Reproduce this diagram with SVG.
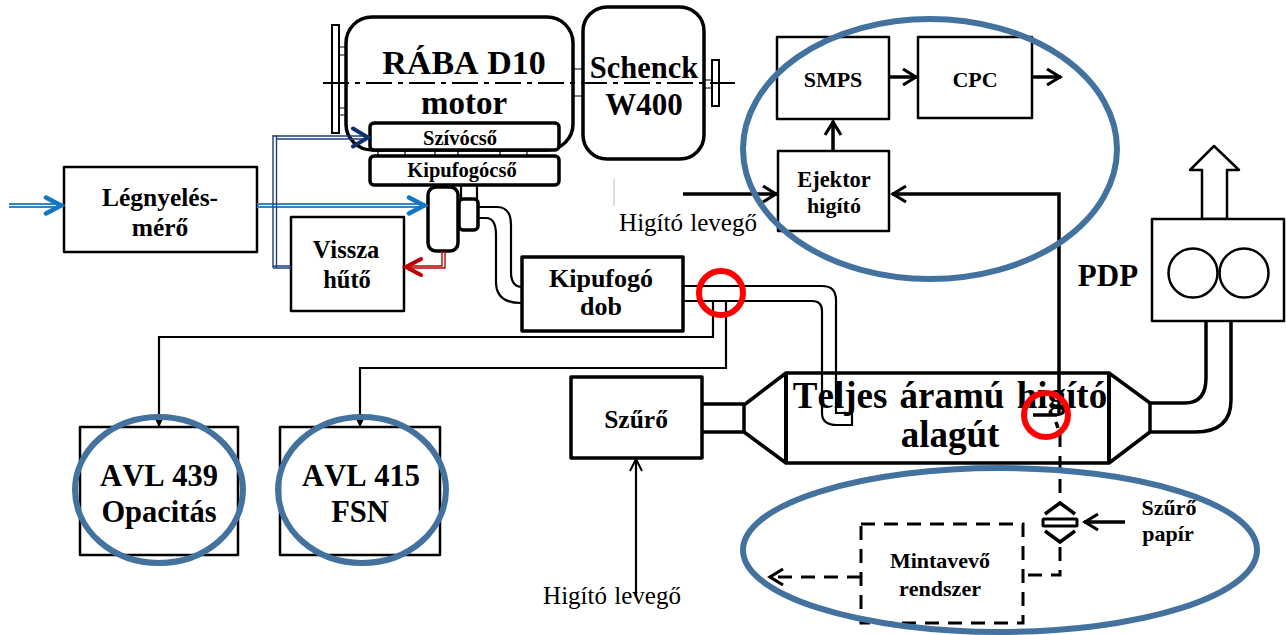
<svg xmlns="http://www.w3.org/2000/svg" width="1287" height="635" viewBox="0 0 1287 635">
<style>
text{font-family:"Liberation Serif","Times New Roman",serif;font-weight:bold;text-anchor:middle;fill:#000;font-kerning:none}
.b{fill:#fff;stroke:#000;stroke-width:2.5;stroke-linejoin:round}
.t{fill:#fff;stroke:#000;stroke-width:3.5;stroke-linejoin:round}
.l{fill:none;stroke:#000;stroke-width:2.2}
.m{fill:none;stroke:#000;stroke-width:3.5}
.d{fill:none;stroke:#000;stroke-width:3;stroke-dasharray:14 9}
.s{fill:none;stroke:#000;stroke-width:1.2}
.bl{fill:none;stroke:#2e86c8;stroke-width:1.8}
.db{fill:none;stroke:#1f3f80;stroke-width:1.4}
.rd{fill:none;stroke:#c00000;stroke-width:1.4}
.oval{fill:none;stroke:#44729f;stroke-width:6}
.red{fill:none;stroke:#f00;stroke-width:6}
.reg{font-weight:normal}
</style>
<defs>
<marker id="ak" markerUnits="userSpaceOnUse" markerWidth="18" markerHeight="20" refX="16" refY="10" orient="auto"><path d="M2 2L15 10L2 18" fill="none" stroke="#000" stroke-width="3.2"/></marker>
<marker id="aks" markerUnits="userSpaceOnUse" markerWidth="16" markerHeight="16" refX="14" refY="8" orient="auto"><path d="M2 2L14 8L2 14" fill="none" stroke="#000" stroke-width="2"/></marker>
<marker id="at" markerUnits="userSpaceOnUse" markerWidth="10" markerHeight="10" refX="9" refY="5" orient="auto"><path d="M1 1L9 5L1 9Z" fill="#000"/></marker>
<marker id="abl" markerUnits="userSpaceOnUse" markerWidth="22" markerHeight="22" refX="19" refY="11" orient="auto"><path d="M3 3L18 11L3 19" fill="none" stroke="#0f77c6" stroke-width="4.5" stroke-linecap="round"/></marker>
<marker id="adb" markerUnits="userSpaceOnUse" markerWidth="22" markerHeight="24" refX="19" refY="12" orient="auto"><path d="M3 3L18 12L3 21" fill="none" stroke="#123070" stroke-width="4" stroke-linecap="round"/></marker>
<marker id="ard" markerUnits="userSpaceOnUse" markerWidth="22" markerHeight="22" refX="19" refY="11" orient="auto"><path d="M3 3L18 11L3 19" fill="none" stroke="#c00000" stroke-width="4" stroke-linecap="round"/></marker>
</defs>

<g id="engine">
<rect class="s" style="stroke-width:2" x="332" y="25" width="7" height="108"/>
<path class="s" d="M339 47H346M339 55H346M339 108H346M339 115H346M573 69H583M573 96H583M704 80H712M704 88H712"/>
<rect class="m" x="346" y="17" width="227" height="133" rx="26"/>
<rect class="s" style="stroke-width:2" x="712" y="60" width="7" height="46"/>
<text x="464" y="74" font-size="34">RÁBA D10</text>
<text x="464" y="114" font-size="33">motor</text>
</g>
<g id="schenck">
<rect class="m" x="583" y="7" width="121" height="152" rx="24"/>
<text x="644" y="78" font-size="30.5">Schenck</text>
<text x="644" y="115" font-size="31">W400</text>
</g>
<g id="szivocso">
<rect class="t" x="370" y="123" width="189" height="27" rx="4"/>
<text x="460" y="145" font-size="20.5">Szívócső</text>
</g>
<g id="kipufogocso">
<path class="s" d="M378 150V156M405 150V156M435 150V156M458 150V156M500 150V156M527 150V156"/>
<rect class="t" x="370" y="156" width="189" height="29" rx="4"/>
<text x="462" y="177" font-size="20.5">Kipufogócső</text>
</g>
<g id="turbo">
<path class="l" d="M461 185V199M477 185V199"/>
<rect class="t" x="428" y="187" width="30" height="64" rx="8"/>
<rect class="t" x="459" y="199" width="19" height="31" rx="4"/>
</g>
<g id="legnyeles">
<rect class="b" x="64" y="167" width="193" height="85"/>
<text x="160" y="206" font-size="25.5">Légnyelés-</text>
<text x="160" y="236" font-size="25.5">mérő</text>
</g>
<g id="visszahuto">
<rect class="b" x="291" y="217" width="113" height="94"/>
<text x="346" y="258" font-size="24.5">Vissza</text>
<text x="347" y="288" font-size="24.5">hűtő</text>
</g>
<g id="kipufogodob">
<rect class="t" x="522" y="257" width="161" height="74"/>
<text x="601" y="287" font-size="26">Kipufogó</text>
<text x="601" y="315" font-size="26">dob</text>
</g>
<g id="smps">
<rect class="b" x="777" y="37" width="112" height="82"/>
<text x="833" y="87" font-size="22">SMPS</text>
</g>
<g id="cpc">
<rect class="b" x="918" y="37" width="114" height="81"/>
<text x="975" y="87" font-size="22">CPC</text>
</g>
<g id="ejektor">
<rect class="b" x="778" y="151" width="111" height="80"/>
<text x="834" y="187" font-size="22.5">Ejektor</text>
<text x="834" y="213" font-size="22">higító</text>
</g>
<g id="avl439">
<rect class="b" x="80" y="427" width="158" height="128"/>
<text x="159" y="486" font-size="30.5">AVL 439</text>
<text x="159" y="522" font-size="30.5">Opacitás</text>
</g>
<g id="avl415">
<rect class="b" x="280" y="427" width="160" height="128"/>
<text x="361" y="486" font-size="30.5">AVL 415</text>
<text x="360" y="522" font-size="30.5">FSN</text>
</g>
<g id="szuro">
<rect class="t" x="571" y="377" width="131" height="81" stroke-width="4"/>
<text x="636" y="428" font-size="25.5">Szűrő</text>
</g>
<g id="pdp">
<path class="b" d="M1202 219V170H1190L1214 146L1239 170H1227V219Z"/>
<rect class="b" x="1152" y="219" width="132" height="102"/>
<circle class="b" cx="1193" cy="273" r="24.5"/>
<circle class="b" cx="1244" cy="273" r="24.5"/>
<text x="1108" y="286" font-size="31">PDP</text>
</g>
<g id="mintavevo">
<rect class="d" x="861" y="524" width="162" height="99"/>
<text x="940" y="568" font-size="22">Mintavevő</text>
<text x="940" y="596" font-size="22">rendszer</text>
</g>
<g id="szuropapir">
<path class="m" d="M1045 514L1060 503L1075 514M1045 531L1060 542L1075 531"/>
<rect x="1043" y="519" width="34" height="7" rx="1" fill="#fff" stroke="#000" stroke-width="3"/>
<text x="1169" y="515" font-size="22">Szűrő</text>
<text x="1168" y="541" font-size="22">papír</text>
</g>

<g id="connectors">
<path class="l" d="M323 83H735" style="stroke-dasharray:26 6 5 6"/>
<path class="l" d="M478 207H497Q511 207 511 225V272Q511 286 521 287"/>
<path class="l" d="M478 218H486Q496 218 496 235V282Q496 303 521 303"/>
<path class="l" d="M683 286H822Q836 286 836 300V413H852V425H837Q822 425 822 413V311Q822 301 812 301H683"/>
<path class="l" d="M713 301V337H159V427" marker-end="url(#at)"/>
<path class="l" d="M726 301V368H360V427" marker-end="url(#at)"/>
<path class="bl" d="M9 204H62M9 207H62"/>
<path fill="none" stroke="none" d="M44 205.500H62" marker-end="url(#abl)"/>
<path class="bl" d="M257 204H425M257 207H425"/>
<path fill="none" stroke="none" d="M400 205.500H425" marker-end="url(#abl)"/>
<path class="db" d="M273 135V268M276.500 135V268M273 136H369M276 139H369M273 268H291M273 266H291"/>
<path fill="none" stroke="none" d="M340 137.500H369" marker-end="url(#adb)"/>
<path class="rd" d="M442 251V266H406M445 251V268H406"/>
<path fill="none" stroke="none" d="M420 267H405" marker-end="url(#ard)"/>
<path d="M614 179V206" fill="none" stroke="#c8c8c8" stroke-width="1.2"/>
<path class="m" d="M683 194H777" marker-end="url(#ak)"/>
<path class="m" d="M889 77H917" marker-end="url(#ak)"/>
<path class="m" d="M1032 77H1061" marker-end="url(#ak)"/>
<path class="m" d="M833 151V121" marker-end="url(#ak)"/>
<path class="m" d="M1059 415V194H892" marker-end="url(#ak)"/>
<path class="l" d="M636 597V459" marker-end="url(#aks)"/>
<path class="m" d="M1125 522H1084" marker-end="url(#ak)"/>
<path class="m" d="M1033 415H1057M1056 422L1058 428"/>
<path class="d" d="M1060 433V502"/>
<path class="d" d="M1060 547V575H1028"/>
<path class="d" d="M861 577H769" marker-end="url(#ak)"/>
</g>

<g id="tunnel">
<path class="m" d="M703 404H744M703 432H744"/>
<path class="t" style="fill:none" d="M744 405L786 373H1109L1150 403V432L1109 463H786L744 432Z"/>
<path class="m" style="stroke-width:4" d="M786 373V463M1109 373V463"/>
<path class="m" d="M1150 403H1185Q1206 403 1206 378V321M1150 432H1195Q1231 432 1231 400V321"/>
<text x="950" y="408" font-size="37" word-spacing="3">Teljes áramú higító</text>
<text x="950" y="447" font-size="37">alagút</text>
</g>

<g id="labels">
<text class="reg" x="688" y="231" font-size="25" word-spacing="1">Higító levegő</text>
<text class="reg" x="612" y="604" font-size="25" word-spacing="1">Higító levegő</text>
</g>

<g id="highlights">
<ellipse class="oval" cx="930" cy="149" rx="187" ry="130"/>
<ellipse class="oval" cx="1000" cy="550" rx="257" ry="82"/>
<ellipse class="oval" cx="159" cy="490" rx="84" ry="73"/>
<ellipse class="oval" cx="362" cy="490" rx="84" ry="73"/>
<circle class="red" cx="721" cy="293" r="22"/>
<circle class="red" cx="1046" cy="415" r="22"/>
</g>
</svg>
